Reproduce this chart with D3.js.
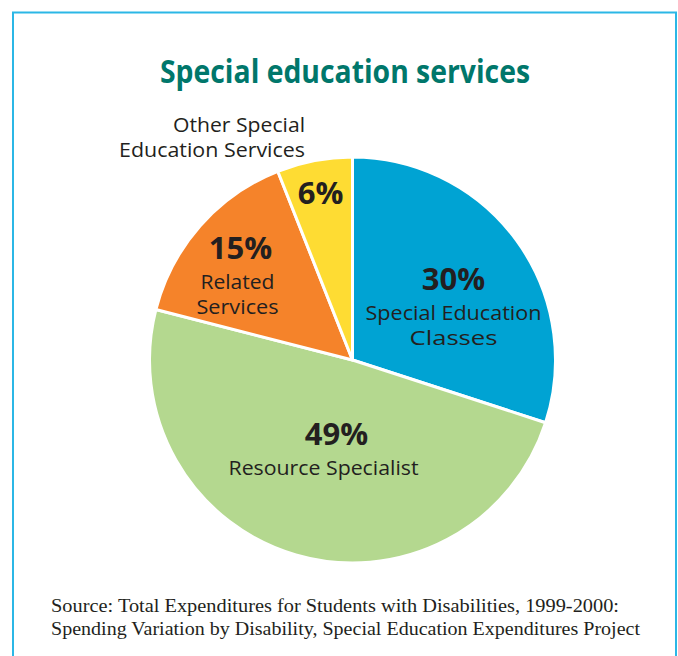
<!DOCTYPE html>
<html>
<head>
<meta charset="utf-8">
<script src="https://cdn.jsdelivr.net/npm/d3@7"></script>
<style>
  html, body { margin: 0; padding: 0; background: #fff; }
  svg { display: block; }
</style>
</head>
<body>
<svg id="chart" width="678" height="656"></svg>
<script>
// ---- data ----
const categories = ["Special Education Classes", "Resource Specialist", "Related Services", "Other Special Education Services"];
const values = [30, 49, 15, 6];
const percentLabels = ["30%", "49%", "15%", "6%"];
const nameLines = [["Special Education", "Classes"], ["Resource Specialist"], ["Related", "Services"], []];
const outsideLines = [[], [], [], ["Other Special", "Education Services"]];
const colors = ["#00A3D3", "#B4D88F", "#F5832A", "#FEDC33"];
const titleText = "Special education services";
const sourceLines = [
  "Source: Total Expenditures for Students with Disabilities, 1999-2000:",
  "Spending Variation by Disability, Special Education Expenditures Project"
];

// ---- layout ----
const svg = d3.select("#chart");
const cx = 352.5, cy = 360, R = 203;
const ink = "#231F20";

// frame
svg.append("path")
  .attr("d", "M13,700 L13,12.5 L676,12.5 L676,700")
  .attr("fill", "none").attr("stroke", "#2BB7E6").attr("stroke-width", 2);

// title
svg.append("text")
  .attr("x", 345).attr("y", 83)
  .attr("text-anchor", "middle")
  .attr("font-family", "'Open Sans', sans-serif")
  .attr("font-weight", 700)
  .attr("font-size", 32)
  .attr("fill", "#00776B")
  .attr("textLength", 370).attr("lengthAdjust", "spacingAndGlyphs")
  .text(titleText);

// pie
const pie = d3.pie().sort(null).value(d => d)(values);
const arc = d3.arc().innerRadius(0).outerRadius(R);
const g = svg.append("g").attr("transform", `translate(${cx},${cy})`);
g.selectAll("path.slice").data(pie).enter().append("path")
  .attr("class", "slice")
  .attr("d", arc)
  .attr("fill", (d, i) => colors[i])
  .attr("stroke", "#fff").attr("stroke-width", 3).attr("stroke-linejoin", "round");

// label anchors (relative to pie centre): [x, percent baseline y]
const labelAnchor = [[101, -70], [-16, 85], [-112, -101], [-32, -156]];
const nameWidths = [[176, 88], [190], [74, 82], []];

pie.forEach((d, i) => {
  const [lx, ly] = labelAnchor[i];
  const lg = g.append("g").attr("transform", `translate(${lx},${ly})`);
  lg.append("text")
    .attr("text-anchor", "middle")
    .attr("font-family", "'Open Sans', sans-serif")
    .attr("font-weight", 700).attr("font-size", 31)
    .attr("fill", ink)
    .text(percentLabels[i]);
  nameLines[i].forEach((line, j) => {
    lg.append("text")
      .attr("x", i === 1 ? -13 : (i === 2 ? -3 : 0))
      .attr("y", 30 + j * 25)
      .attr("text-anchor", "middle")
      .attr("font-family", "'Open Sans', sans-serif")
      .attr("font-size", 20)
      .attr("fill", ink)
      .attr("textLength", nameWidths[i][j]).attr("lengthAdjust", "spacingAndGlyphs")
      .text(line);
  });
});

// outside label for small slice
const outWidths = [132, 186];
outsideLines[3].forEach((line, j) => {
  svg.append("text")
    .attr("x", 305).attr("y", 132 + j * 25)
    .attr("text-anchor", "end")
    .attr("font-family", "'Open Sans', sans-serif")
    .attr("font-size", 20)
    .attr("fill", ink)
    .attr("textLength", outWidths[j]).attr("lengthAdjust", "spacingAndGlyphs")
    .text(line);
});

// source
const srcWidths = [568, 589];
sourceLines.forEach((line, j) => {
  svg.append("text")
    .attr("x", 51).attr("y", 612 + j * 23)
    .attr("font-family", "'Liberation Serif', serif")
    .attr("font-size", 18)
    .attr("fill", ink)
    .attr("textLength", srcWidths[j]).attr("lengthAdjust", "spacingAndGlyphs")
    .text(line);
});
</script>
</body>
</html>
